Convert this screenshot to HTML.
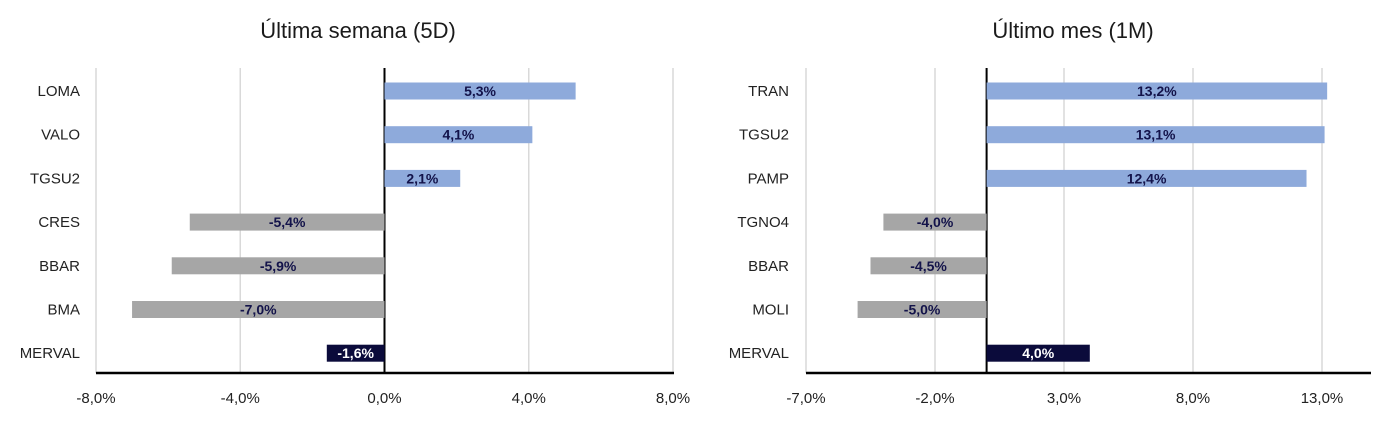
<!DOCTYPE html>
<html><head><meta charset="utf-8"><style>
body{margin:0;background:#fff;width:1400px;height:418px;overflow:hidden;font-family:"Liberation Sans",sans-serif}
</style></head><body>
<svg id="svg" width="1400" height="418" xmlns="http://www.w3.org/2000/svg">
<text x="358" y="38" text-anchor="middle" font-size="22" fill="#1a1a1a">Última semana (5D)</text>
<text x="1073" y="38" text-anchor="middle" font-size="22" fill="#1a1a1a">Último mes (1M)</text>
</svg>
<script>
const leftCats=["LOMA","VALO","TGSU2","CRES","BBAR","BMA","MERVAL"];
const leftVals=[5.3,4.1,2.1,-5.4,-5.9,-7.0,-1.6];
const leftTicks=[-8,-4,0,4,8];
const rightCats=["TRAN","TGSU2","PAMP","TGNO4","BBAR","MOLI","MERVAL"];
const rightVals=[13.2,13.1,12.4,-4.0,-4.5,-5.0,4.0];
const rightTicks=[-7,-2,3,8,13];
const NS="http://www.w3.org/2000/svg";
const svg=document.getElementById('svg');
function mk(t,a){const e=document.createElementNS(NS,t);for(const k in a)e.setAttribute(k,a[k]);svg.appendChild(e);return e;}
function fmt(v){return v.toFixed(1).replace('.',',')+'%';}
function chart(p,cats,vals,ticks){
  const x=v=>p.x0+(v-ticks[0])/(ticks[ticks.length-1]-ticks[0])*(p.x1-p.x0);
  ticks.forEach(t=>{
    const g=mk('line',{x1:x(t),x2:x(t),y1:68,y2:373,stroke:'#d9d9d9','stroke-width':1.5});
    
    
    const tl=mk('text',{x:x(t),y:403,'text-anchor':'middle','font-size':15,fill:'#222'});
    tl.textContent=fmt(t);
    
    
  });
  const z=mk('line',{x1:x(0),x2:x(0),y1:68,y2:373,stroke:'#000','stroke-width':2});
  
  
  const ax=mk('line',{x1:p.x0,x2:p.axEnd,y1:373,y2:373,stroke:'#000','stroke-width':2.5});
  
  
  cats.forEach((c,i)=>{
    const cy=91+i*43.7;
    const v=vals[i];
    const last=i===cats.length-1;
    const col=last?'#0b0b3b':(v>=0?'#8eaadb':'#a6a6a6');
    const bx=Math.min(x(0),x(v)),bw=Math.abs(x(v)-x(0));
    const r=mk('rect',{x:bx,y:cy-8.5,width:bw,height:17,fill:col});
    
    
    const vl=mk('text',{x:bx+bw/2,y:cy+5,'text-anchor':'middle','font-size':14,'font-weight':'bold',fill:last?'#fff':'#13134a'});
    vl.textContent=fmt(v);
    
    
    const cl=mk('text',{x:p.labX,y:cy+5,'text-anchor':'end','font-size':15,fill:'#222'});
    cl.textContent=c;
    
    
  });
}
chart({x0:96,x1:673,axEnd:674,labX:80},leftCats,leftVals,leftTicks);
chart({x0:806,x1:1322,axEnd:1371,labX:789},rightCats,rightVals,rightTicks);
</script>
</body></html>
